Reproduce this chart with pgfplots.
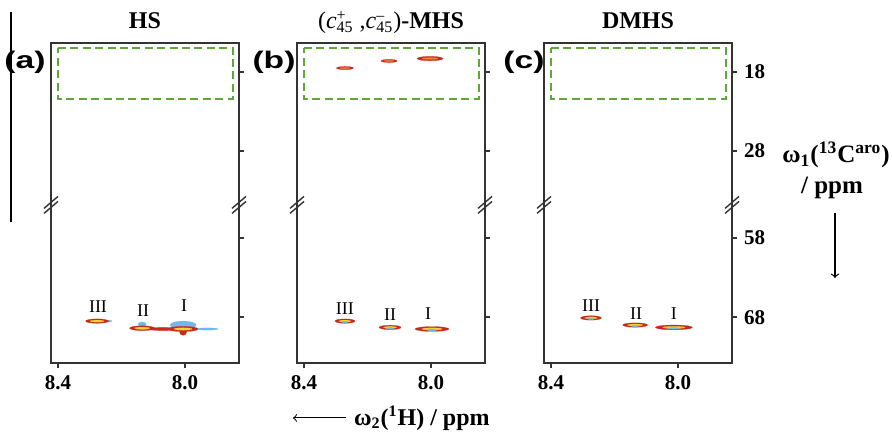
\documentclass[border=0pt]{standalone}
\usepackage{pgfplots}
\pgfplotsset{compat=1.18}
\usepackage{pgfplotstable}
\usepackage{graphicx}
\usepackage{fontspec}
\setmainfont{Liberation Serif}
\newfontfamily\arial{Liberation Sans}

\definecolor{framegray}{HTML}{333333}
\definecolor{boxgreen}{HTML}{5EA83A}
\definecolor{pkred}{HTML}{C62A1E}
\definecolor{pkorange}{HTML}{E58A2A}
\definecolor{pkyellow}{HTML}{F3CF3A}
\definecolor{pkblue}{HTML}{72B8E8}

% omega_1 axis is broken between ~35 and ~54 ppm:
% peaks below the break are stored 19 ppm lower (58 -> 39, 68 -> 49)
% columns: omega_2 (ppm), omega_1 (shifted ppm), width (pt), height (pt)
\pgfplotstableread{
x y w h
8.277 49.5 11.5 2.2
8.135 50.4 12.5 2.4
8.006 50.5 15 2.6
}\lowA
\pgfplotstableread{
x y w h
8.240 49.5 3 1.0
8.135 49.9 4 2.4
8.006 50.0 13 4.0
7.930 50.5 11 1.1
}\blueA
\pgfplotstableread{
x y w h
8.070 50.5 14 1.6
8.006 50.9 3.5 3.2
}\redA
\pgfplotstableread{
x y w h
8.271 17.5 8.5 1.6
8.132 16.6 8 1.6
8.003 16.3 13 2.2
}\upB
\pgfplotstableread{
x y w h
8.271 49.5 10 2.2
8.129 50.3 11 2.2
7.997 50.5 17 2.4
}\lowB
\pgfplotstableread{
x y w h
8.274 49.1 10.5 2.2
8.135 50.0 12.5 2.2
8.013 50.3 18.5 2.4
}\lowC

\pgfplotsset{
  panel/.style={scale only axis, width=94pt, height=160pt,
    x dir=reverse, y dir=reverse,
    xmin=7.83, xmax=8.422, ymin=14.33, ymax=54.8,
    xtick={8.4,8.0}, xticklabels={8.4,8.0},
    ytick={18,28,39,49}, yticklabels={},
    xtick pos=bottom, ytick pos=right, tick align=outside,
    major tick length=2.5pt,
    axis line style={framegray, line width=1pt},
    every tick/.style={framegray, line width=0.8pt},
    ticklabel style={font=\bfseries\fontsize{10.5}{12}\selectfont},
    /pgf/number format/assume math mode=true,
    every axis title/.style={at={(0.5,1)}, anchor=base, yshift=7pt,
      font=\bfseries\fontsize{12}{14}\selectfont},
    clip=false,
  },
  peak/.style n args={4}{scatter, only marks, mark=*, mark size=0.5pt,
    mark options={draw=#1, fill=#1, line width=0.1pt},
    visualization depends on={\thisrow{w} \as \pw},
    visualization depends on={\thisrow{h} \as \ph},
    scatter/@pre marker code/.code={\scope[color=#1, yshift=#4, xscale=#2*\pw, yscale=#3*\ph]},
    scatter/@post marker code/.code={\endscope}},
  greenbox/.style={boxgreen, line width=0.9pt, dash pattern=on 4pt off 2.2pt, mark=none},
}

\newcommand{\brk}[1]{%
  \draw[framegray, line width=0.7pt] ([shift={(-3.5pt,-4.25pt)}]axis description cs:#1,0.494) -- ++(7pt,6pt);
  \draw[framegray, line width=0.7pt] ([shift={(-3.5pt,-1.75pt)}]axis description cs:#1,0.494) -- ++(7pt,6pt);}
\newcommand{\pklabel}[3]{\node[font=\fontsize{9}{10}\selectfont] at (axis cs:#1,#2) {#3};}

\begin{document}
\begin{tikzpicture}
\useasboundingbox (0,0) rectangle (446pt,216pt);
\draw[black, line width=0.7pt] (5.5pt,210pt) -- (5.5pt,105pt);

% (a) HS
\begin{axis}[panel, at={(25.5pt,34.5pt)}, anchor=south west, title={HS}]
\addplot[greenbox] coordinates {(8.40,14.96) (7.849,14.96) (7.849,21.4) (8.40,21.4) (8.40,14.96)};
\addplot[peak={pkblue}{1}{1}{0pt}] table {\blueA};
\addplot[peak={pkred}{1}{1}{0pt}] table {\redA};
\addplot[peak={pkred}{1}{1}{0pt}] table {\lowA};
\addplot[peak={pkyellow}{0.6}{0.45}{0pt}] table {\lowA};
\pklabel{8.274}{47.7}{III}
\pklabel{8.132}{48.2}{II}
\pklabel{8.003}{47.6}{I}
\brk{0}\brk{1}
\end{axis}

% (b) MHS
\begin{axis}[panel, at={(148.5pt,34.5pt)}, anchor=south west,
  title={\textnormal{(}\textit{\mdseries c}\rlap{\textsuperscript{\mdseries +}}\textsubscript{\mdseries 45} \textnormal{,}\textit{\mdseries c}\rlap{\textsuperscript{\mdseries --}}\textsubscript{\mdseries 45}\textnormal{)}-MHS}]
\addplot[greenbox] coordinates {(8.40,14.96) (7.849,14.96) (7.849,21.4) (8.40,21.4) (8.40,14.96)};
\addplot[peak={pkred}{1}{1}{0pt}] table {\upB};
\addplot[peak={pkorange}{0.6}{0.4}{0pt}] table {\upB};
\addplot[peak={pkred}{1}{1}{0pt}] table {\lowB};
\addplot[peak={pkyellow}{0.6}{0.45}{0pt}] table {\lowB};
\addplot[peak={pkblue}{0.3}{0.35}{-0.5pt}] table {\lowB};
\pklabel{8.271}{47.9}{III}
\pklabel{8.129}{48.7}{II}
\pklabel{8.009}{48.5}{I}
\brk{0}\brk{1}
\end{axis}

% (c) DMHS
\begin{axis}[panel, at={(272pt,34.5pt)}, anchor=south west, title={DMHS},
  yticklabels={18,28,58,68}]
\addplot[greenbox] coordinates {(8.40,14.96) (7.849,14.96) (7.849,21.4) (8.40,21.4) (8.40,14.96)};
\addplot[peak={pkred}{1}{1}{0pt}] table {\lowC};
\addplot[peak={pkyellow}{0.6}{0.45}{0pt}] table {\lowC};
\addplot[peak={pkblue}{0.3}{0.35}{-0.5pt}] table {\lowC};
\pklabel{8.274}{47.6}{III}
\pklabel{8.132}{48.5}{II}
\pklabel{8.013}{48.6}{I}
\brk{0}\brk{1}
\end{axis}

% panel letters
\node[font=\arial\bfseries\fontsize{12}{13}\selectfont] at (12.5pt,185pt) {\scalebox{1.4}[1]{(a)}};
\node[font=\arial\bfseries\fontsize{12}{13}\selectfont] at (137pt,185pt) {\scalebox{1.4}[1]{(b)}};
\node[font=\arial\bfseries\fontsize{12}{13}\selectfont] at (262pt,185pt) {\scalebox{1.4}[1]{(c)}};

% omega_2 axis label
\draw[->, line width=0.5pt] (173pt,7pt) -- (146.5pt,7pt);
\node[anchor=west, font=\bfseries\fontsize{12}{13}\selectfont] at (173.5pt,7pt)
  {ω\textsubscript{2}(\textsuperscript{1}H) / ppm};

% omega_1 axis label
\node[font=\bfseries\fontsize{12.5}{14}\selectfont] at (418pt,138.5pt)
  {ω\textsubscript{1}(\textsuperscript{13}C\textsuperscript{aro})};
\node[font=\bfseries\fontsize{12.5}{14}\selectfont] at (416pt,122pt) {/ ppm};
\draw[->, line width=0.6pt] (417.5pt,109.5pt) -- (417.5pt,77pt);
\end{tikzpicture}
\end{document}
